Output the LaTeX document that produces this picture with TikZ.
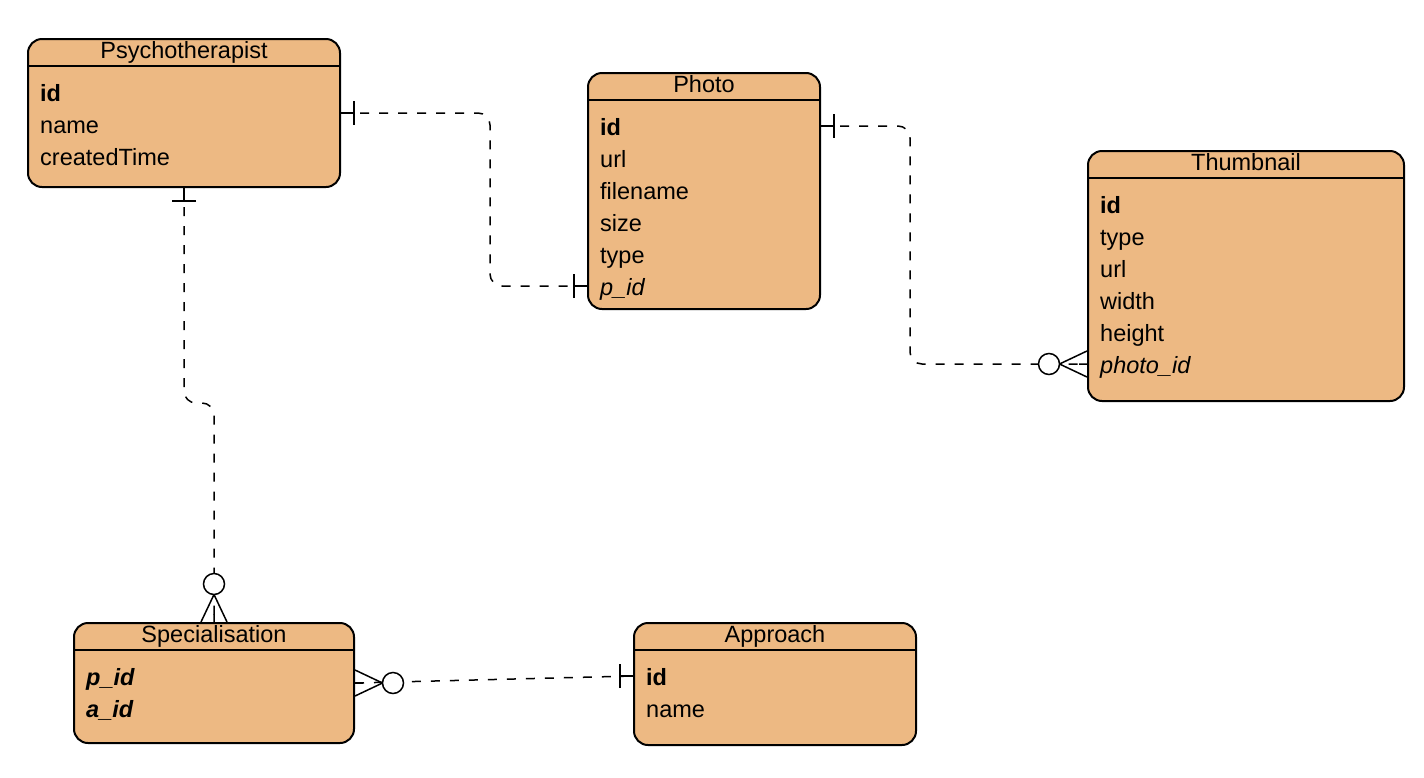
\documentclass[tikz,border=0pt]{standalone}
\usepackage{fontspec}
\setmainfont{Liberation Sans}
\usetikzlibrary{positioning}
\definecolor{erfill}{RGB}{237,185,131}
\definecolor{erline}{RGB}{0,0,0}

\tikzset{
  entity/.style={draw=erline, fill=erfill, line width=2pt, rounded corners=14pt,
    anchor=north west, inner sep=0pt},
  entity line/.style={draw=erline, line width=2pt},
  entity title/.style={anchor=base, inner sep=0pt, font=\fontsize{23.5}{28}\selectfont},
  entity field/.style={anchor=base west, inner sep=0pt, text height=20pt, text depth=2pt,
    font=\fontsize{23.5}{28}\selectfont},
  relation/.style={draw=erline, line width=1.5pt, dash pattern=on 9pt off 10pt, rounded corners=12pt},
  marker/.style={draw=erline, line width=1.5pt, solid},
  mandone/.pic={\draw[marker] (0,0) -- (13,0) (13,-12) -- (13,12);},
  zeromany/.pic={\draw[marker] (0,-13) -- (27.5,0) -- (0,13) (0,0) -- (8,0);
    \draw[marker, fill=white] (38,0) circle[radius=10.5];}
}

% #1 name, #2 x, #3 y, #4 width, #5 height, #6 title, #7 fields
\newcommand{\erentity}[7]{%
  \node[entity, minimum width=#4pt, minimum height=#5pt] (#1) at (#2,#3) {};
  \draw[entity line] ([yshift=-28pt]#1.north west) -- ([yshift=-28pt]#1.north east);
  \node[entity title] (#1-title) at ([yshift=-20pt]#1.north) {#6};
  \foreach \f [count=\i] in {#7} {
    \pgfmathsetmacro{\rowy}{-63-32*(\i-1)}
    \node[entity field] (#1-\i) at ([xshift=13pt, yshift=\rowy pt]#1.north west) {\f};
  }%
}

\begin{document}
\begin{tikzpicture}[x=1pt, y=-1pt]
  \useasboundingbox (0,0) rectangle (1424,777);

  % entities
  \erentity{psy}{27}{38}{312}{148}{Psychotherapist}{\textbf{id}, name, createdTime}
  \erentity{photo}{587}{72}{232}{236}{Photo}{\textbf{id}, url, filename, size, type, \textit{p\_id}}
  \erentity{thumb}{1087}{150}{316}{250}{Thumbnail}{\textbf{id}, type, url, width, height, \textit{photo\_id}}
  \erentity{spec}{73}{622}{280}{120}{Specialisation}{\textbf{\textit{p\_id}}, \textbf{\textit{a\_id}}}
  \erentity{appr}{633}{622}{282}{122}{Approach}{\textbf{id}, name}

  % bends
  \coordinate (bend-a) at (490,0);
  \coordinate (bend-b) at (910,0);
  \coordinate (bend-c) at (0,403);

  % relations
  \draw[relation] (psy.east) -| (bend-a |- photo-6) -- (photo.west |- photo-6);
  \draw[relation] (photo.east |- photo-1) -| (bend-b |- thumb-6) -- (thumb.west |- thumb-6);
  \draw[relation] (psy.south) |- (spec.north |- bend-c) -- (spec.north);
  \draw[relation] (spec.east) -- (appr.west |- appr-1);

  % cardinalities
  \pic at (psy.east) {mandone};
  \pic[rotate=180] at (photo.west |- photo-6) {mandone};
  \pic at (photo.east |- photo-1) {mandone};
  \pic[rotate=180] at (thumb.west |- thumb-6) {zeromany};
  \pic[rotate=-90] at (psy.south) {mandone};
  \pic[rotate=90] at (spec.north) {zeromany};
  \pic at (spec.east) {zeromany};
  \pic[rotate=180] at (appr.west |- appr-1) {mandone};
\end{tikzpicture}
\end{document}
